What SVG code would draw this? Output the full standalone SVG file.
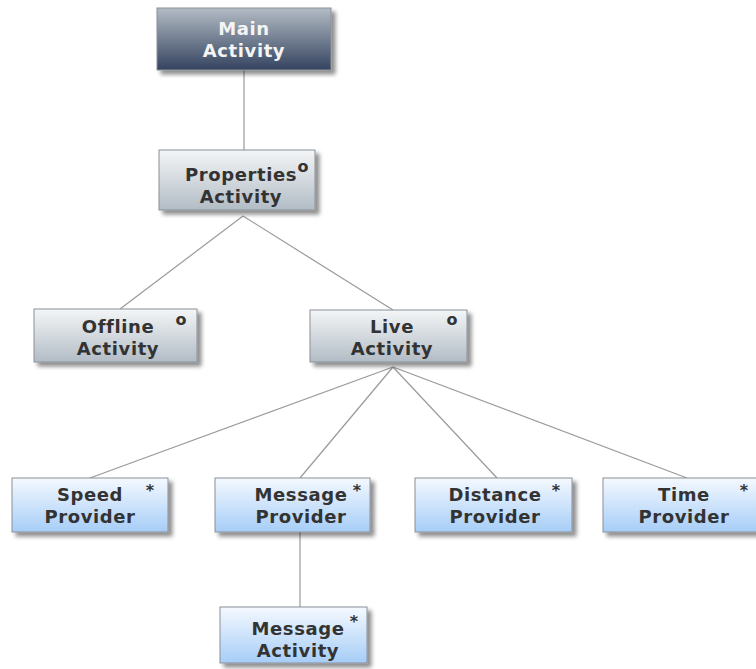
<svg xmlns="http://www.w3.org/2000/svg" width="756" height="669" viewBox="0 0 756 669">
  <defs>
    <linearGradient id="gDark" x1="0" y1="0" x2="0" y2="1">
      <stop offset="0" stop-color="#b3bcc5"/>
      <stop offset="1" stop-color="#34435f"/>
    </linearGradient>
    <linearGradient id="gGray" x1="0" y1="0" x2="0" y2="1">
      <stop offset="0" stop-color="#f4f6f7"/>
      <stop offset="1" stop-color="#b2bcc5"/>
    </linearGradient>
    <linearGradient id="gBlue" x1="0" y1="0" x2="0" y2="1">
      <stop offset="0" stop-color="#f5f9ff"/>
      <stop offset="1" stop-color="#a6cdf7"/>
    </linearGradient>
    <filter id="shadow" x="-10%" y="-20%" width="130%" height="150%">
      <feGaussianBlur in="SourceAlpha" stdDeviation="2"/>
      <feOffset dx="4" dy="4" result="b"/>
      <feComponentTransfer><feFuncA type="linear" slope="0.45"/></feComponentTransfer>
      <feMerge><feMergeNode/><feMergeNode in="SourceGraphic"/></feMerge>
    </filter>
  </defs>
  <style>
    .box { stroke: #8a9096; stroke-width: 1; filter: url(#shadow); }
    .dark { fill: url(#gDark); }
    .gray { fill: url(#gGray); }
    .blue { fill: url(#gBlue); }
    .lbl { font-family: "DejaVu Sans", Verdana, sans-serif; font-weight: bold; font-size: 18px; letter-spacing: 0.6px; fill: #333333; text-anchor: middle; }
    .lbl.w { fill: #f4f4f4; }
    .mark { font-family: "DejaVu Sans", Verdana, sans-serif; font-weight: bold; font-size: 16px; fill: #333333; text-anchor: middle; }
    .edge { stroke: #9a9a9a; stroke-width: 1.2; fill: none; }
  </style>
  <rect width="756" height="669" fill="#ffffff"/>

  <g id="connectors">
    <line class="edge" x1="244" y1="70" x2="244" y2="150"/>
    <line class="edge" x1="243" y1="216" x2="120" y2="309"/>
    <line class="edge" x1="243" y1="216" x2="393" y2="310"/>
    <line class="edge" x1="393" y1="367" x2="90" y2="478"/>
    <line class="edge" x1="393" y1="367" x2="300" y2="478"/>
    <line class="edge" x1="393" y1="367" x2="497" y2="478"/>
    <line class="edge" x1="393" y1="367" x2="687" y2="478"/>
    <line class="edge" x1="300" y1="532" x2="300" y2="607"/>
  </g>

  <g id="main-activity">
    <rect class="box dark" x="157" y="8" width="174" height="62"/>
    <text class="lbl w" x="244" y="35">Main</text>
    <text class="lbl w" x="244" y="57">Activity</text>
  </g>

  <g id="properties-activity">
    <rect class="box gray" x="159" y="150" width="156" height="60"/>
    <text class="lbl" x="241" y="181">Properties</text>
    <text class="lbl" x="241" y="203">Activity</text>
    <text class="mark" x="303" y="172">o</text>
  </g>

  <g id="offline-activity">
    <rect class="box gray" x="34" y="309" width="163" height="53"/>
    <text class="lbl" x="118" y="333">Offline</text>
    <text class="lbl" x="118" y="355">Activity</text>
    <text class="mark" x="181" y="325">o</text>
  </g>

  <g id="live-activity">
    <rect class="box gray" x="310" y="310" width="157" height="52"/>
    <text class="lbl" x="392" y="333">Live</text>
    <text class="lbl" x="392" y="355">Activity</text>
    <text class="mark" x="452" y="325">o</text>
  </g>

  <g id="speed-provider">
    <rect class="box blue" x="12" y="478" width="156" height="54"/>
    <text class="lbl" x="90" y="501">Speed</text>
    <text class="lbl" x="90" y="523">Provider</text>
    <text class="mark" x="150" y="496">*</text>
  </g>

  <g id="message-provider">
    <rect class="box blue" x="215" y="478" width="155" height="54"/>
    <text class="lbl" x="301" y="501">Message</text>
    <text class="lbl" x="301" y="523">Provider</text>
    <text class="mark" x="357" y="496">*</text>
  </g>

  <g id="distance-provider">
    <rect class="box blue" x="415" y="478" width="157" height="54"/>
    <text class="lbl" x="495" y="501">Distance</text>
    <text class="lbl" x="495" y="523">Provider</text>
    <text class="mark" x="556" y="496">*</text>
  </g>

  <g id="time-provider">
    <rect class="box blue" x="603" y="478" width="160" height="54"/>
    <text class="lbl" x="684" y="501">Time</text>
    <text class="lbl" x="684" y="523">Provider</text>
    <text class="mark" x="744" y="496">*</text>
  </g>

  <g id="message-activity">
    <rect class="box blue" x="220" y="607" width="147" height="56"/>
    <text class="lbl" x="298" y="635">Message</text>
    <text class="lbl" x="298" y="657">Activity</text>
    <text class="mark" x="354" y="627">*</text>
  </g>
</svg>
